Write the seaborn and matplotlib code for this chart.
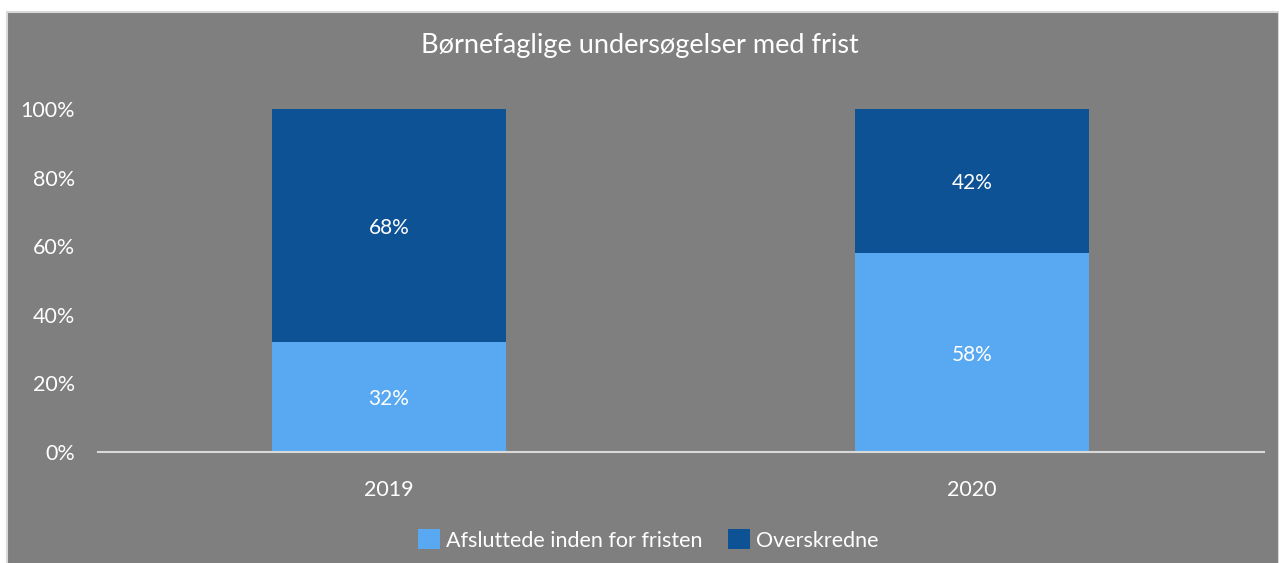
import matplotlib
matplotlib.use("Agg")
import matplotlib.pyplot as plt
import seaborn as sns
import pandas as pd
from matplotlib.patches import Rectangle, Patch

years = ["2019", "2020"]
afsluttede = [32, 58]
overskredne = [68, 42]
series_names = ["Afsluttede inden for fristen", "Overskredne"]
title = "Børnefaglige undersøgelser med frist"

light = "#58a9f1"
dark = "#0e5296"
bg = "#7f7f7f"

sns.set_theme(style="white")
plt.rcParams["font.family"] = ["Lato", "DejaVu Sans"]

fig = plt.figure(figsize=(12.79, 5.63), dpi=100)
fig.patch.set_facecolor("white")
# grey chart area with thin light border
fig.patches.append(Rectangle((7 / 1279, -0.01), 1 - 7 / 1279, 1.01 - 12 / 563,
                             transform=fig.transFigure, facecolor=bg,
                             edgecolor="#d9d9d9", linewidth=1.5, zorder=-5))

ax = fig.add_axes([97.5 / 1279, 1 - 452 / 563, (1263.5 - 97.5) / 1279, 343 / 563])
ax.set_facecolor("none")

df = pd.DataFrame({"year": years, "low": afsluttede,
                   "total": [a + b for a, b in zip(afsluttede, overskredne)]})
sns.barplot(data=df, x="year", y="total", color=dark, width=0.4, saturation=1,
            linewidth=0, ax=ax)
sns.barplot(data=df, x="year", y="low", color=light, width=0.4, saturation=1,
            linewidth=0, ax=ax)

for i, (a, b) in enumerate(zip(afsluttede, overskredne)):
    ax.text(i, a / 2, f"{a}%", ha="center", va="center_baseline", color="white", fontsize=15)
    ax.text(i, a + b / 2, f"{b}%", ha="center", va="center_baseline", color="white", fontsize=15)

ax.set_xlim(-0.5, 1.5)
ax.set_ylim(0, 100)
ax.set_yticks([0, 20, 40, 60, 80, 100])
ax.set_yticklabels([f"{v}%" for v in [0, 20, 40, 60, 80, 100]], va="center_baseline")
ax.tick_params(axis="y", colors="white", labelsize=15.5, length=0, pad=16)
ax.tick_params(axis="x", colors="white", labelsize=15.5, length=0, pad=20)
ax.set_xlabel("")
ax.set_ylabel("")
for s in ["top", "right", "left"]:
    ax.spines[s].set_visible(False)
ax.spines["bottom"].set_color("#d9d9d9")
ax.spines["bottom"].set_linewidth(1.5)

fig.text(0.5, 1 - 45 / 563, title, ha="center", va="center", color="white", fontsize=19.5)

handles = [Patch(facecolor=light, edgecolor="none"), Patch(facecolor=dark, edgecolor="none")]
fig.legend(handles, series_names, loc="center", bbox_to_anchor=(0.507, 1 - 540 / 563),
           ncol=2, frameon=False, fontsize=15.5, labelcolor="white",
           handlelength=1.0, handleheight=1.0, handletextpad=0.3, columnspacing=1.2)

fig.savefig("out.png", dpi=100, facecolor=fig.get_facecolor())
